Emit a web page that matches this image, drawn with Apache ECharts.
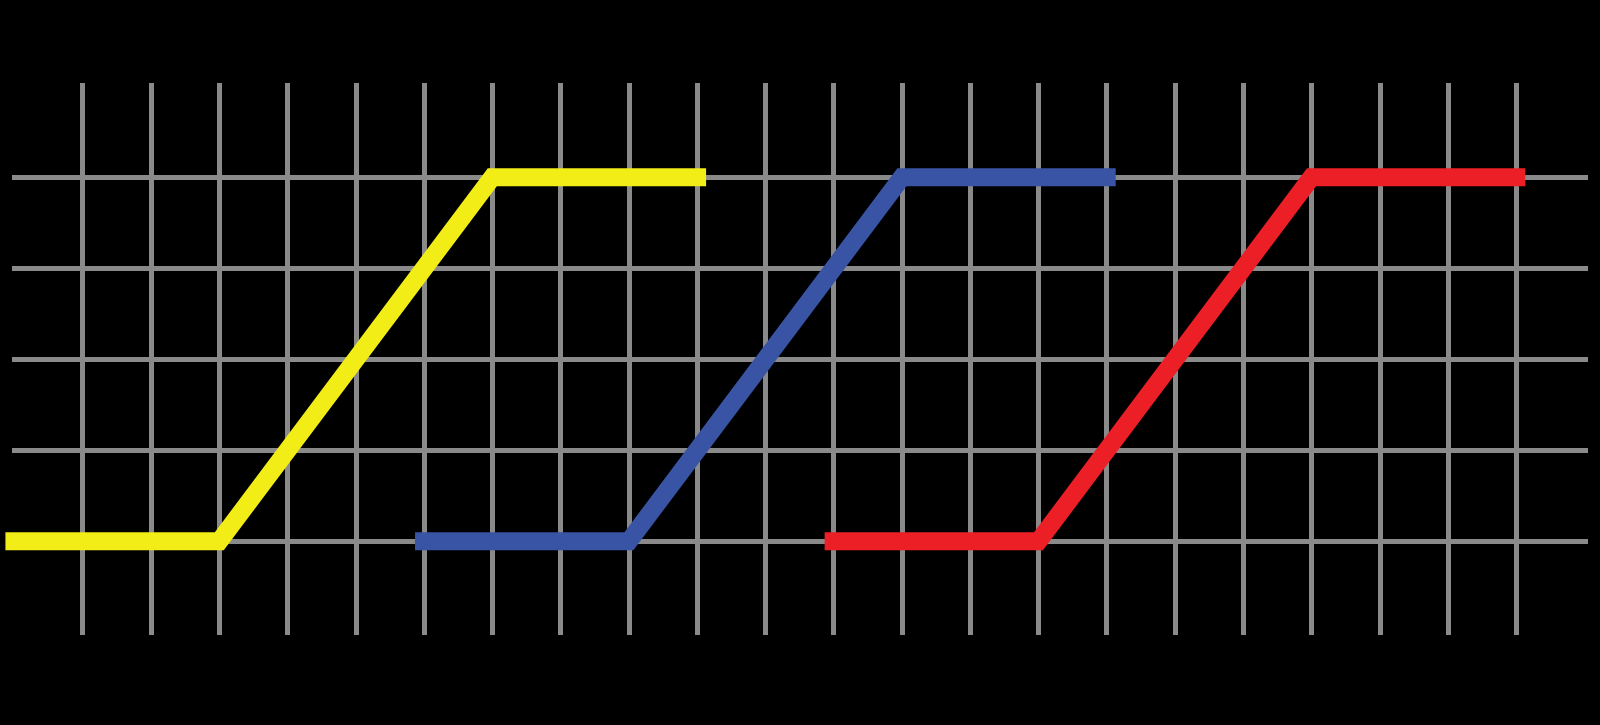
<!DOCTYPE html>
<html>
<head>
<meta charset="utf-8">
<script src="https://cdn.jsdelivr.net/npm/echarts@6/dist/echarts.min.js"></script>
<style>
  html, body { margin: 0; padding: 0; background: #000; }
  #chart { width: 1600px; height: 725px; }
</style>
</head>
<body>
<div id="chart"></div>
<script>
// Grid positions (column / row indices)
const columnTicks = [0, 21];      // vertical grid columns span 0..21
const rowTicks = [0, 4];          // horizontal grid rows span 0..4

// Series data: x positions (grid columns) and y levels (grid rows)
const yellowX = [-1, 2, 6, 9];
const blueX = [5, 8, 12, 15];
const redX = [11, 14, 18, 21];
const levels = [0, 0, 4, 4];

const gridColor = '#8a8a8a';

function pairs(xs, ys) {
  return xs.map((x, i) => [x, ys[i]]);
}

const hiddenAxisBase = {
  axisLine: { show: false },
  axisTick: { show: false },
  axisLabel: { show: false }
};

const chart = echarts.init(document.getElementById('chart'));
chart.setOption({
  backgroundColor: '#000000',
  animation: false,
  grid: [
    // vertical grid lines
    { left: 82.7, right: 83.7, top: 83, bottom: 90 },
    // horizontal grid lines
    { left: 12, right: 12, top: 177.3, bottom: 183.7 },
    // data
    { left: 14.43, right: 83.7, top: 177.3, bottom: 183.7 }
  ],
  xAxis: [
    Object.assign({ gridIndex: 0, type: 'value', min: columnTicks[0], max: columnTicks[1], interval: 1,
      splitLine: { show: true, lineStyle: { color: gridColor, width: 5 } } }, hiddenAxisBase),
    Object.assign({ gridIndex: 1, type: 'value', min: 0, max: 1,
      splitLine: { show: false } }, hiddenAxisBase),
    Object.assign({ gridIndex: 2, type: 'value', min: -1, max: columnTicks[1],
      splitLine: { show: false } }, hiddenAxisBase)
  ],
  yAxis: [
    Object.assign({ gridIndex: 0, type: 'value', min: 0, max: 1,
      splitLine: { show: false } }, hiddenAxisBase),
    Object.assign({ gridIndex: 1, type: 'value', min: rowTicks[0], max: rowTicks[1], interval: 1,
      splitLine: { show: true, lineStyle: { color: gridColor, width: 5 } } }, hiddenAxisBase),
    Object.assign({ gridIndex: 2, type: 'value', min: rowTicks[0], max: rowTicks[1],
      splitLine: { show: false } }, hiddenAxisBase)
  ],
  series: [
    { name: 'Yellow', color: '#F2EC17' },
    { name: 'Blue', color: '#3953A5' },
    { name: 'Red', color: '#EC1F26' }
  ].map((s, i) => ({
    type: 'line',
    name: s.name,
    xAxisIndex: 2,
    yAxisIndex: 2,
    data: pairs([yellowX, blueX, redX][i], levels),
    showSymbol: false,
    symbol: 'none',
    clip: false,
    z: 10,
    lineStyle: { color: s.color, width: 18, cap: 'square', join: 'miter' }
  }))
});
</script>
</body>
</html>
